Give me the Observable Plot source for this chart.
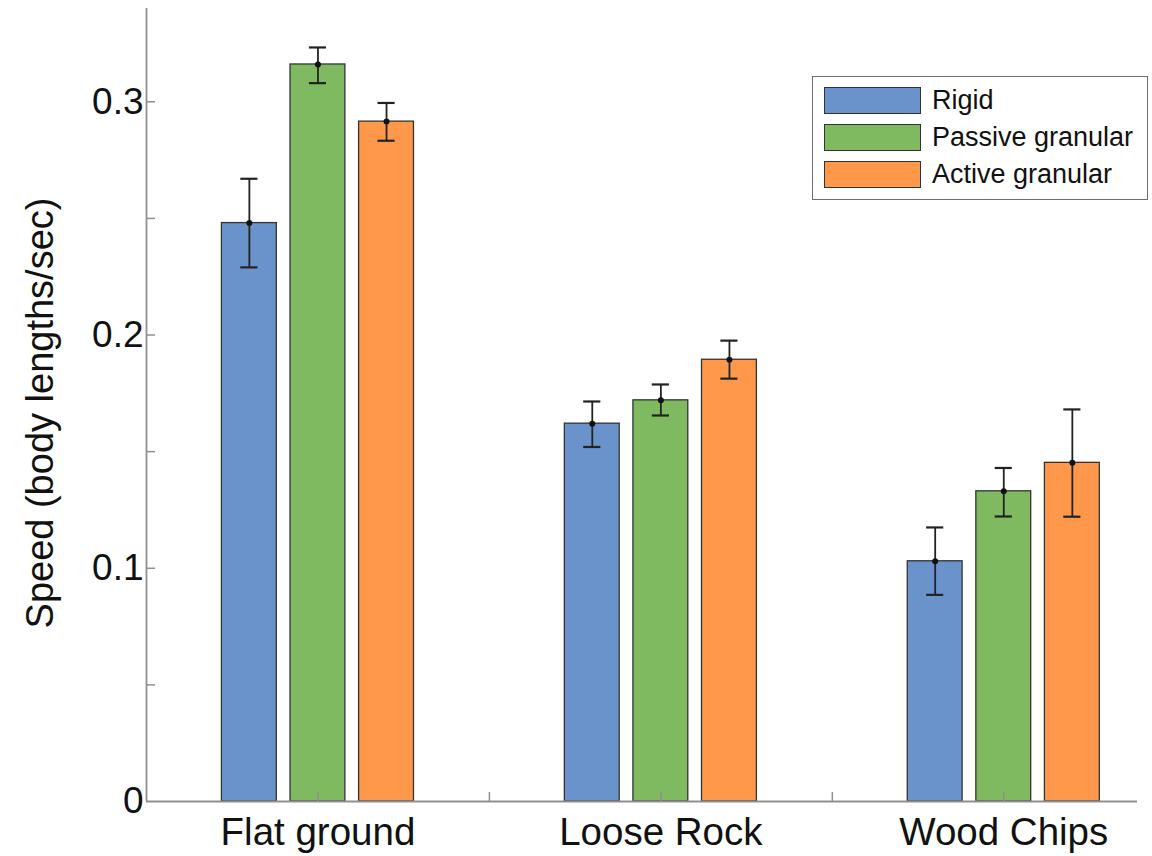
<!DOCTYPE html>
<html>
<head>
<meta charset="utf-8">
<script src="https://cdn.jsdelivr.net/npm/d3@7"></script>
<script src="https://cdn.jsdelivr.net/npm/@observablehq/plot@0.6"></script>
<style>
  html, body { margin: 0; padding: 0; background: #fff; }
  #wrap { position: relative; width: 1152px; height: 856px; font-family: "Liberation Sans", Arial, sans-serif; }
  #legend { position: absolute; left: 812px; top: 76px; width: 334px; height: 122px; border: 1.5px solid #6e6e6e; background: #fff; box-sizing: content-box; }
  .row { position: absolute; left: 11px; height: 27px; display: flex; align-items: center; }
  .sw { width: 95px; height: 25px; border: 1.3px solid #333; margin-right: 11px; }
  .lab { font-size: 27px; color: #111; line-height: 27px; }
</style>
</head>
<body>
<div id="wrap"></div>
<script>
// ---- data ----
const categories = ["Flat ground", "Loose Rock", "Wood Chips"];
const series = ["Rigid", "Passive granular", "Active granular"];
const colors = ["#6b93cb", "#7fba60", "#ff984a"];

const rigidMean   = [0.248, 0.162, 0.103];
const rigidLow    = [0.229, 0.152, 0.0886];
const rigidHigh   = [0.267, 0.1715, 0.1175];

const passiveMean = [0.316, 0.172, 0.133];
const passiveLow  = [0.308, 0.1655, 0.1222];
const passiveHigh = [0.3233, 0.1788, 0.143];

const activeMean  = [0.2915, 0.1894, 0.1452];
const activeLow   = [0.2833, 0.1813, 0.1221];
const activeHigh  = [0.2995, 0.1976, 0.1681];

const yLabelTicks = [0, 0.1, 0.2, 0.3];
const yTickMarks = [0.05, 0.1, 0.15, 0.2, 0.25, 0.3];
const xLabelTicks = [1, 2, 3];
const xTickMarks = [1, 1.5, 2, 2.5, 3];
const yTitle = "Speed (body lengths/sec)";

// ---- layout ----
const W = 1152, H = 856;
const mL = 146, mR = 15, mT = 8, mB = 55;
const xDomain = [0.5, 3.39];
const yDomain = [0, 0.34];
const barStep = 0.2, barW = 0.16, capHalf = 0.025;
const font = "'Liberation Sans', Arial, sans-serif";
const axisColor = "#8f8f8f";

const means = [rigidMean, passiveMean, activeMean];
const lows = [rigidLow, passiveLow, activeLow];
const highs = [rigidHigh, passiveHigh, activeHigh];
const rows = [];
series.forEach((s, si) => {
  categories.forEach((c, ci) => {
    rows.push({
      series: s, category: c,
      xc: ci + 1 + (si - 1) * barStep,
      value: means[si][ci], lo: lows[si][ci], hi: highs[si][ci]
    });
  });
});

const frameW = W - mL - mR, frameH = H - mT - mB;

const chart = Plot.plot({
  width: W, height: H,
  marginLeft: mL, marginRight: mR, marginTop: mT, marginBottom: mB,
  style: { fontFamily: font, background: "white" },
  x: { type: "linear", domain: xDomain, axis: null },
  y: { domain: yDomain, axis: null },
  color: { domain: series, range: colors },
  marks: [
    Plot.rectY(rows, {
      x1: d => d.xc - barW / 2, x2: d => d.xc + barW / 2,
      y1: 0, y2: "value", fill: "series", stroke: "#333", strokeWidth: 1.3
    }),
    Plot.ruleX(rows, { x: "xc", y1: "lo", y2: "hi", stroke: "#222", strokeWidth: 1.8 }),
    Plot.ruleY(rows, { y: "hi", x1: d => d.xc - capHalf, x2: d => d.xc + capHalf, stroke: "#222", strokeWidth: 2.2 }),
    Plot.ruleY(rows, { y: "lo", x1: d => d.xc - capHalf, x2: d => d.xc + capHalf, stroke: "#222", strokeWidth: 2.2 }),
    Plot.dot(rows, { x: "xc", y: "value", r: 3, fill: "#111", stroke: null }),
    // axis lines
    Plot.ruleY([yDomain[0]], { stroke: axisColor, strokeWidth: 1.8 }),
    Plot.ruleX([xDomain[0]], { stroke: axisColor, strokeWidth: 1.8 }),
    // inward ticks
    Plot.tickY(yTickMarks, { y: d => d, stroke: axisColor, strokeWidth: 1.5, insetRight: frameW - 9 }),
    Plot.tickX(xTickMarks, { x: d => d, stroke: axisColor, strokeWidth: 1.5, insetTop: frameH - 9 }),
    // tick labels
    Plot.axisY(yLabelTicks, {
      tickSize: 0, tickPadding: 3, fontSize: 37, color: "#111",
      tickFormat: d => d === 0 ? "0" : d.toFixed(1), label: null
    }),
    Plot.axisX(xLabelTicks, {
      tickSize: 0, tickPadding: 16, fontSize: 38.5, color: "#111",
      tickFormat: d => categories[d - 1], label: null
    }),
    Plot.text([yTitle], {
      frameAnchor: "left", rotate: -90, dx: -120, dy: 8,
      fontSize: 38, fill: "#111", lineAnchor: "top", textAnchor: "middle"
    })
  ]
});

const wrap = document.getElementById("wrap");
wrap.appendChild(chart);

// legend overlay
const legend = document.createElement("div");
legend.id = "legend";
series.forEach((s, i) => {
  const row = document.createElement("div");
  row.className = "row";
  row.style.top = (10 + i * 37) + "px";
  const sw = document.createElement("div");
  sw.className = "sw";
  sw.style.background = colors[i];
  const lab = document.createElement("span");
  lab.className = "lab";
  lab.textContent = s;
  row.appendChild(sw);
  row.appendChild(lab);
  legend.appendChild(row);
});
wrap.appendChild(legend);
</script>
</body>
</html>
